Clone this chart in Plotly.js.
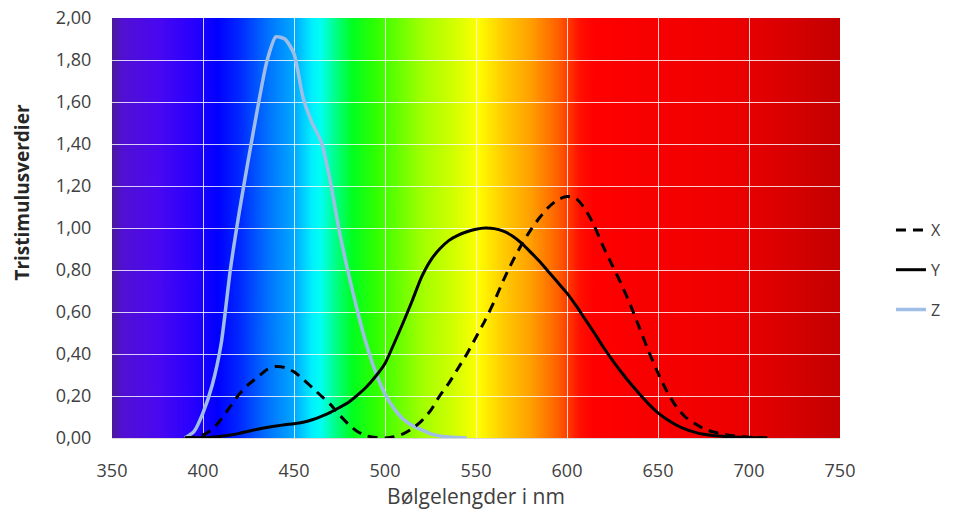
<!DOCTYPE html>
<html>
<head>
<meta charset="utf-8">
<script src="https://cdn.plot.ly/plotly-3.0.1.min.js"></script>
<style>html,body{margin:0;padding:0;background:#fff}#chart{width:953px;height:517px}</style>
</head>
<body>
<div id="chart"></div>
<script>
// ---- Data ----
var seriesNames = ['X', 'Y', 'Z'];

var wlX = [390,395,400,405,410,415,420,425,430,435,440,445,450,455,460,465,470,475,480,485,490,495,500,505,510,515,520,525,530,535,540,545,550,555,560,565,570,575,580,585,590,595,600,605,610,615,620,625,630,635,640,645,650,655,660,665,670,675,680,685,690,695,700,705,710];
var valX = [0,0.005,0.015,0.04,0.09,0.15,0.21,0.255,0.29,0.325,0.34,0.335,0.315,0.28,0.24,0.20,0.16,0.11,0.065,0.03,0.01,0.002,0,0.006,0.02,0.045,0.08,0.13,0.20,0.26,0.33,0.40,0.48,0.56,0.65,0.75,0.84,0.92,0.99,1.05,1.10,1.135,1.15,1.14,1.09,1.01,0.91,0.82,0.73,0.63,0.52,0.41,0.31,0.22,0.15,0.10,0.07,0.045,0.03,0.02,0.012,0.007,0.004,0.002,0];

var wlY = [390,395,400,405,410,415,420,425,430,435,440,445,450,455,460,465,470,475,480,485,490,495,500,505,510,515,520,525,530,535,540,545,550,555,560,565,570,575,580,585,590,595,600,605,610,615,620,625,630,635,640,645,650,655,660,665,670,675,680,685,690,695,700,705,710];
var valY = [0,0.001,0.002,0.004,0.008,0.014,0.022,0.032,0.042,0.050,0.057,0.063,0.068,0.075,0.087,0.103,0.122,0.145,0.170,0.205,0.245,0.295,0.355,0.450,0.550,0.655,0.765,0.845,0.900,0.940,0.965,0.982,0.994,1.000,0.997,0.985,0.962,0.928,0.885,0.840,0.790,0.740,0.690,0.630,0.565,0.500,0.432,0.370,0.312,0.258,0.208,0.160,0.120,0.088,0.062,0.042,0.028,0.018,0.012,0.008,0.005,0.003,0.002,0.001,0];

var wlZ = [390,395,400,405,410,415,420,425,430,435,440,445,450,455,460,465,470,475,480,485,490,495,500,505,510,515,520,525,530,535,540,545];
var valZ = [0,0.03,0.12,0.25,0.45,0.80,1.08,1.33,1.57,1.79,1.91,1.90,1.83,1.62,1.50,1.41,1.22,0.98,0.78,0.60,0.44,0.31,0.21,0.14,0.09,0.06,0.04,0.02,0.01,0.005,0.002,0];

var xTickVals = [350,400,450,500,550,600,650,700,750];
var yTickVals = [0,0.2,0.4,0.6,0.8,1.0,1.2,1.4,1.6,1.8,2.0];

// ---- Styling: spectrum background ----
var spectrumStops = [
  [350,'#4a1a9a'],[356,'#5210d4'],[375,'#4a08f0'],[395,'#2800ff'],[408,'#0000ff'],
  [420,'#0028ff'],[435,'#0070ff'],[450,'#00a8ff'],[460,'#00f0ff'],[465,'#00fff0'],
  [472,'#00ff90'],[482,'#00ff20'],[495,'#30ff00'],[520,'#a0ff00'],[540,'#d8ff00'],
  [551,'#ffff00'],[565,'#ffcc00'],[580,'#ffa000'],[595,'#ff6000'],[607,'#ff1000'],
  [615,'#ff0000'],[690,'#ee0000'],[750,'#c40000']
];
var cv = document.createElement('canvas');
cv.width = 800; cv.height = 4;
var ctx = cv.getContext('2d');
var grad = ctx.createLinearGradient(0, 0, 800, 0);
spectrumStops.forEach(function (s) { grad.addColorStop((s[0] - 350) / 400, s[1]); });
ctx.fillStyle = grad;
ctx.fillRect(0, 0, 800, 4);
var bgSrc = cv.toDataURL('image/png');

var FONT = '"Open Sans", "Liberation Sans", sans-serif';

var traces = [
  {x: wlZ, y: valZ, name: seriesNames[2], mode: 'lines', legendrank: 3, legendgroup: 'gz',
   line: {color: '#9fbde6', width: 3.5, shape: 'spline', smoothing: 0.6}},
  {x: wlX, y: valX, name: seriesNames[0], mode: 'lines', legendrank: 1, legendgroup: 'gx',
   line: {color: '#000000', width: 3, dash: '10px,7px', shape: 'spline', smoothing: 0.6}},
  {x: wlY, y: valY, name: seriesNames[1], mode: 'lines', legendrank: 2, legendgroup: 'gy',
   line: {color: '#000000', width: 3, shape: 'spline', smoothing: 0.6}}
];

var layout = {
  width: 953, height: 517,
  margin: {l: 112, r: 113, t: 18, b: 79, autoexpand: false},
  paper_bgcolor: '#ffffff',
  plot_bgcolor: 'rgba(0,0,0,0)',
  separators: ', ',
  font: {family: FONT, color: '#404040', size: 18},
  showlegend: true,
  legend: {x: 1.07, xanchor: 'left', y: 0.4, yanchor: 'middle',
           traceorder: 'grouped', tracegroupgap: 16,
           font: {family: FONT, size: 16, color: '#404040'},
           bgcolor: 'rgba(0,0,0,0)'},
  xaxis: {range: [350, 750], tickvals: xTickVals, tickformat: 'd',
          showgrid: true, gridcolor: 'rgba(255,255,255,0.8)', gridwidth: 1,
          zeroline: false, showline: true, linecolor: '#d9d9d9', linewidth: 1,
          ticks: 'outside', ticklen: 16, tickcolor: 'rgba(0,0,0,0)',
          tickfont: {family: FONT, size: 18, color: '#404040'},
          title: {text: 'Bølgelengder i nm', font: {family: FONT, size: 21, color: '#404040'}, standoff: 6},
          fixedrange: true},
  yaxis: {range: [0, 2], tickvals: yTickVals, tickformat: '.2f',
          showgrid: true, gridcolor: 'rgba(255,255,255,0.8)', gridwidth: 1,
          zeroline: false, showline: false,
          ticks: 'outside', ticklen: 16, tickcolor: 'rgba(0,0,0,0)',
          tickfont: {family: FONT, size: 18, color: '#404040'},
          fixedrange: true},
  annotations: [{
    text: '<b>Tristimulusverdier</b>', textangle: -90,
    xref: 'paper', yref: 'paper', x: -0.124, y: 0.586,
    xanchor: 'center', yanchor: 'middle', showarrow: false,
    font: {family: FONT, size: 19, color: '#262626'}
  }],
  images: [{source: bgSrc, xref: 'x', yref: 'y', x: 350, y: 2, sizex: 400, sizey: 2,
            sizing: 'stretch', layer: 'below', xanchor: 'left', yanchor: 'top'}]
};

Plotly.newPlot('chart', traces, layout, {displayModeBar: false, staticPlot: true});
</script>
</body>
</html>
